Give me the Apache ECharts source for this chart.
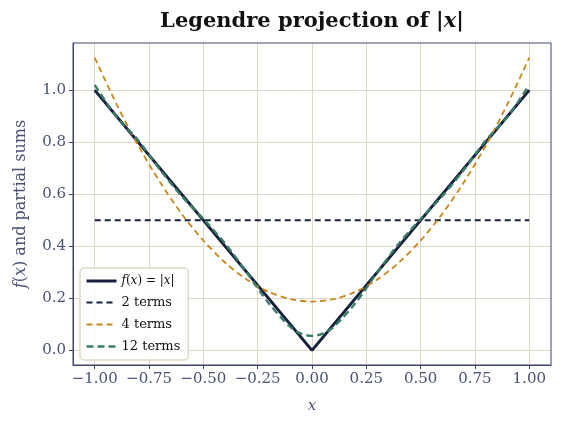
<!DOCTYPE html>
<html><head><meta charset="utf-8">
<script src="https://cdn.jsdelivr.net/npm/echarts@6/dist/echarts.min.js"></script>
<style>html,body{margin:0;padding:0;background:#fff}#c{width:562px;height:428px}</style>
</head><body><div id="c"></div>
<script>
// Data
const xExact = [-1, 0, 1];
const yExact = [1, 0, 1];
const x2 = [-1, 1];
const y2 = [0.5, 0.5];
const x4 = [-1, -0.9, -0.8, -0.7, -0.6, -0.5, -0.4, -0.3, -0.2, -0.1, 0, 0.1, 0.2, 0.3, 0.4, 0.5, 0.6, 0.7, 0.8, 0.9, 1];
const y4 = [1.125, 0.947, 0.7875, 0.647, 0.525, 0.422, 0.3375, 0.272, 0.225, 0.197, 0.1875, 0.197, 0.225, 0.272, 0.3375, 0.422, 0.525, 0.647, 0.7875, 0.947, 1.125];
const x12 = [-1, -0.9, -0.8, -0.7, -0.6, -0.5, -0.4, -0.3, -0.2, -0.1, -0.05, 0, 0.05, 0.1, 0.2, 0.3, 0.4, 0.5, 0.6, 0.7, 0.8, 0.9, 1];
const y12 = [1.0205, 0.898, 0.807, 0.695, 0.593, 0.505, 0.411, 0.299, 0.182, 0.090, 0.064, 0.0555, 0.064, 0.090, 0.182, 0.299, 0.411, 0.505, 0.593, 0.695, 0.807, 0.898, 1.0205];
const xTicks = [-1, -0.75, -0.5, -0.25, 0, 0.25, 0.5, 0.75, 1];
const yTicks = [0, 0.2, 0.4, 0.6, 0.8, 1.0];
const seriesNames = ['exact', '2 terms', '4 terms', '12 terms'];

const zip = (a, b) => a.map((v, i) => [v, b[i]]);
const serif = 'DejaVu Serif';
const gridCol = '#ddd9c6';
const axisCol = '#3e4566';
const labelCol = '#4a5275';

const chart = echarts.init(document.getElementById('c'), null, {renderer: 'canvas'});
chart.setOption({
  animation: false,
  backgroundColor: '#fff',
  title: {
    text: '{b|Legendre projection of }{n||}{i|x}{n||}',
    left: 307, textAlign: 'center', top: 6,
    textStyle: {
      rich: {
        b: {fontFamily: serif, fontWeight: 'bold', fontSize: 21, color: '#111'},
        n: {fontFamily: serif, fontSize: 21, color: '#111'},
        i: {fontFamily: serif, fontStyle: 'italic', fontSize: 21, color: '#111'}
      }
    }
  },
  grid: {left: 73, right: 11, top: 43, bottom: 63, containLabel: false},
  xAxis: {
    type: 'value', min: -1.1, max: 1.1,
    name: 'x', nameLocation: 'middle', nameGap: 34,
    nameTextStyle: {fontFamily: serif, fontStyle: 'italic', fontSize: 15, color: labelCol},
    axisLine: {show: true, onZero: false, lineStyle: {color: axisCol, width: 1}},
    axisTick: {show: true, customValues: xTicks, length: 4, lineStyle: {color: axisCol}},
    axisLabel: {customValues: xTicks, fontFamily: serif, fontSize: 15, color: labelCol, margin: 7,
      formatter: v => (v < 0 ? '\u2212' : '') + Math.abs(v).toFixed(2)},
    splitLine: {show: true, customValues: xTicks, lineStyle: {color: gridCol, width: 1}}
  },
  yAxis: {
    type: 'value', min: -0.05625, max: 1.18125,
    name: '{i|f}({i|x}) and partial sums', nameLocation: 'middle', nameGap: 44,
    nameTextStyle: {fontFamily: serif, fontSize: 16, color: labelCol,
      rich: {i: {fontFamily: serif, fontStyle: 'italic', fontSize: 16, color: labelCol}}},
    axisLine: {show: true, onZero: false, lineStyle: {color: axisCol, width: 1}},
    axisTick: {show: true, customValues: yTicks, length: 4, lineStyle: {color: axisCol}},
    axisLabel: {customValues: yTicks, fontFamily: serif, fontSize: 15, color: labelCol, margin: 7,
      formatter: v => v.toFixed(1)},
    splitLine: {show: true, customValues: yTicks, lineStyle: {color: gridCol, width: 1}}
  },
  graphic: [{
    type: 'rect', shape: {x: 73, y: 43, width: 478, height: 322},
    style: {fill: 'none', stroke: axisCol, lineWidth: 1}, silent: true, z: 10
  }],
  legend: {
    left: 80, top: 268, orient: 'vertical',
    data: [
      {name: seriesNames[0], lineStyle: {width: 3}},
      {name: seriesNames[1], lineStyle: {width: 2}},
      {name: seriesNames[2], lineStyle: {width: 2}},
      {name: seriesNames[3], lineStyle: {width: 2.4}}
    ],
    itemWidth: 30, itemHeight: 12, itemGap: 9,
    padding: [7, 8, 7, 5],
    backgroundColor: 'rgba(255,255,255,0.85)',
    borderColor: gridCol, borderWidth: 1.5, borderRadius: 4,
    itemStyle: {opacity: 0},
    textStyle: {fontFamily: serif, fontSize: 13, color: '#111',
      rich: {i: {fontFamily: serif, fontStyle: 'italic', fontSize: 12, color: '#111'},
             n: {fontFamily: serif, fontSize: 12, color: '#111'}}},
    formatter: n => n === 'exact' ? '{i|f}{n|(}{i|x}{n|) = |}{i|x}{n||}' : n
  },
  series: [
    {name: 'exact', type: 'line', data: zip(xExact, yExact), symbol: 'none',
     lineStyle: {color: '#17203d', width: 3}, itemStyle: {color: '#17203d'}, z: 2},
    {name: '2 terms', type: 'line', data: zip(x2, y2), symbol: 'none',
     lineStyle: {color: '#17203d', width: 1.8, type: [6, 4]}, itemStyle: {color: '#17203d'}, z: 3},
    {name: '4 terms', type: 'line', data: zip(x4, y4), symbol: 'none', smooth: 0.3,
     lineStyle: {color: '#c8861a', width: 1.8, type: [6, 4]}, itemStyle: {color: '#c8861a'}, z: 4},
    {name: '12 terms', type: 'line', data: zip(x12, y12), symbol: 'none', smooth: 0.3,
     lineStyle: {color: '#3a7d68', width: 2.4, type: [7, 4]}, itemStyle: {color: '#3a7d68'}, z: 5}
  ]
});
</script>
</body></html>
